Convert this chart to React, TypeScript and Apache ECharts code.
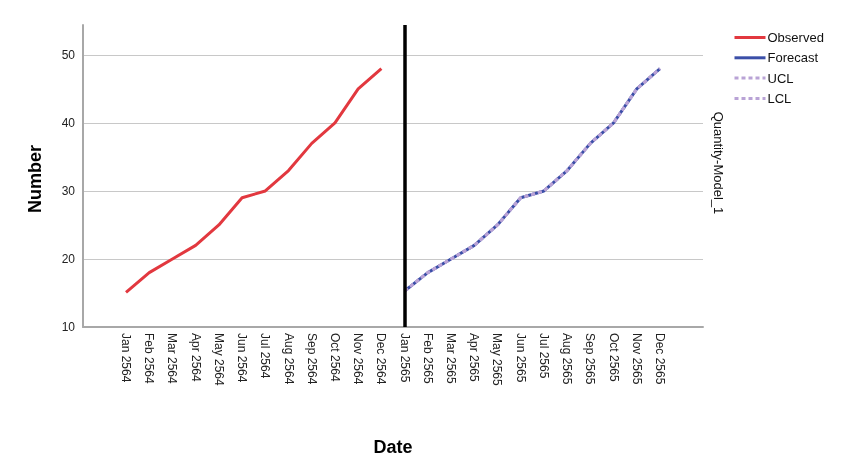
import React, { useEffect, useRef } from "react";
import * as echarts from "echarts";

const months = ["Jan", "Feb", "Mar", "Apr", "May", "Jun", "Jul", "Aug", "Sep", "Oct", "Nov", "Dec"];
const years = ["2564", "2565"];
const categories = years.flatMap((y) => months.map((m) => `${m} ${y}`));
const observed = [15.1, 18, 20, 22, 25, 29, 30, 33, 37, 40, 45, 48];
const forecast = [15.3, 18, 20, 22, 25, 29, 30, 33, 37, 40, 45, 48];
const ucl = [15.3, 18, 20, 22, 25, 29, 30, 33, 37, 40, 45, 48];
const lcl = [15.3, 18, 20, 22, 25, 29, 30, 33, 37, 40, 45, 48];
const yTicks = [10, 20, 30, 40, 50];
const splitCategory = "Jan 2565";

const pad = (vals: number[], before: number, after: number) =>
  [...Array(before).fill(null), ...vals, ...Array(after).fill(null)];

export default function App() {
  const ref = useRef<HTMLDivElement>(null);
  useEffect(() => {
    if (!ref.current) return;
    const chart = echarts.init(ref.current, null, { renderer: "svg" });
    const font = "Liberation Sans, Arial, sans-serif";
    const yMin = yTicks[0];
    const yMax = 54.4;
    chart.setOption({
      animation: false,
      textStyle: { fontFamily: font },
      grid: [
        { left: 83, right: 142, top: 25, bottom: 139 },
        { left: 126, right: 185, top: 25, bottom: 139 },
      ],
      xAxis: [
        {
          type: "value",
          gridIndex: 0,
          min: 0,
          max: 1,
          axisLine: { show: true, lineStyle: { color: "#a8a8a8", width: 2 } },
          axisTick: { show: false },
          axisLabel: { show: false },
          splitLine: { show: false },
        },
        {
          type: "category",
          gridIndex: 1,
          data: categories,
          boundaryGap: false,
          axisLine: { show: false },
          axisTick: { show: false },
          axisLabel: {
            rotate: -90,
            interval: 0,
            margin: 6,
            color: "#222",
            fontSize: 12,
            fontFamily: font,
          },
        },
      ],
      yAxis: [
        {
          type: "value",
          gridIndex: 0,
          min: yMin,
          max: yMax,
          interval: 10,
          axisLine: { show: true, lineStyle: { color: "#a8a8a8", width: 2 } },
          axisTick: { show: false },
          axisLabel: {
            color: "#222",
            fontSize: 12,
            margin: 8,
            showMaxLabel: false,
            formatter: (v: number) => (yTicks.includes(v) ? String(v) : ""),
          },
          splitLine: { show: true, showMinLine: false, showMaxLine: false, lineStyle: { color: "#c8c8c8", width: 1 } },
        },
        {
          type: "value",
          gridIndex: 1,
          min: yMin,
          max: yMax,
          show: false,
          splitLine: { show: false },
        },
      ],
      legend: {
        orient: "vertical",
        left: 728,
        top: 26,
        itemWidth: 31,
        itemHeight: 14,
        itemGap: 7.3,
        itemStyle: { opacity: 0 },
        lineStyle: { width: 3 },
        textStyle: { color: "#111", fontSize: 13, fontFamily: font, padding: [0, 0, 0, -3] },
        data: ["Observed", "Forecast", "UCL", "LCL"],
      },
      series: [
        {
          name: "Observed",
          type: "line",
          xAxisIndex: 1,
          yAxisIndex: 1,
          data: pad(observed, 0, 12),
          symbol: "none",
          lineStyle: { color: "#e2383f", width: 3 },
          itemStyle: { color: "#e2383f" },
        },
        {
          name: "Forecast",
          type: "line",
          xAxisIndex: 1,
          yAxisIndex: 1,
          data: pad(forecast, 12, 0),
          symbol: "none",
          lineStyle: { color: "#3b4fa8", width: 3 },
          itemStyle: { color: "#3b4fa8" },
          markLine: {
            silent: true,
            symbol: "none",
            label: { show: false },
            lineStyle: { color: "#000", width: 3.5, type: "solid" },
            data: [{ xAxis: splitCategory }],
          },
        },
        {
          name: "UCL",
          type: "line",
          xAxisIndex: 1,
          yAxisIndex: 1,
          data: pad(ucl, 12, 0),
          symbol: "none",
          lineStyle: { color: "#b9a3d6", width: 3, type: [4, 3] },
          itemStyle: { color: "#b9a3d6" },
        },
        {
          name: "LCL",
          type: "line",
          xAxisIndex: 1,
          yAxisIndex: 1,
          data: pad(lcl, 12, 0),
          symbol: "none",
          lineStyle: { color: "#b9a3d6", width: 3, type: [4, 3] },
          itemStyle: { color: "#b9a3d6" },
        },
      ],
      graphic: [
        {
          type: "text",
          x: 35,
          y: 179,
          rotation: Math.PI / 2,
          style: {
            text: "Number",
            fontSize: 18,
            fontWeight: "bold",
            fontFamily: font,
            fill: "#000",
            align: "center",
            verticalAlign: "middle",
          },
        },
        {
          type: "text",
          x: 393,
          y: 447,
          style: {
            text: "Date",
            fontSize: 18,
            fontWeight: "bold",
            fontFamily: font,
            fill: "#000",
            align: "center",
            verticalAlign: "middle",
          },
        },
        {
          type: "text",
          x: 718,
          y: 163,
          rotation: -Math.PI / 2,
          style: {
            text: "Quantity-Model_1",
            fontSize: 13,
            fontFamily: font,
            fill: "#111",
            align: "center",
            verticalAlign: "middle",
          },
        },
      ],
    });
    return () => chart.dispose();
  }, []);
  return <div ref={ref} style={{ position: "fixed", left: 0, top: 0, width: 845, height: 466 }} />;
}
